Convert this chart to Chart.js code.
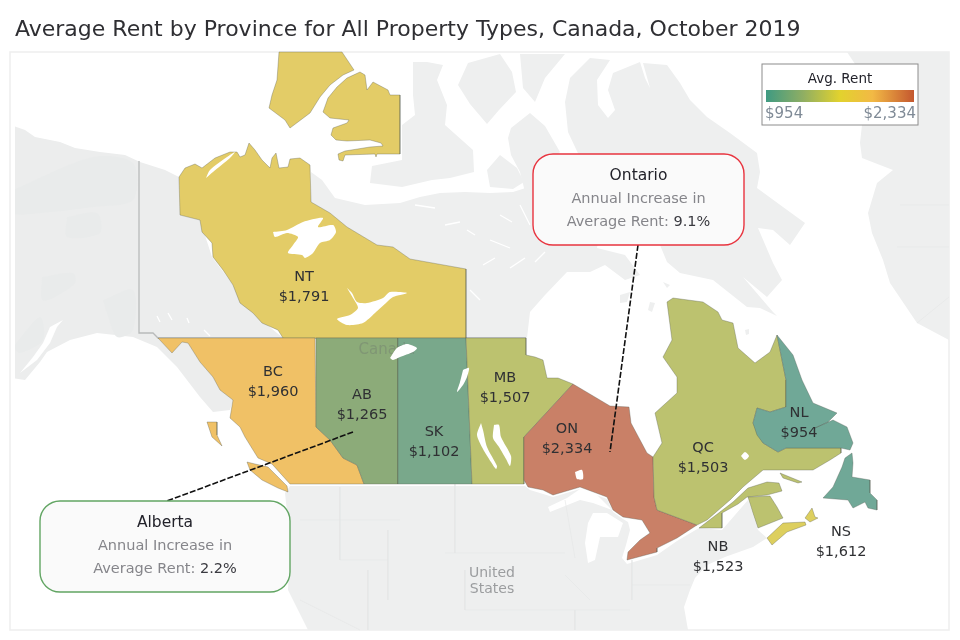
<!DOCTYPE html>
<html>
<head>
<meta charset="utf-8">
<title>Average Rent by Province</title>
<script src="https://cdn.jsdelivr.net/npm/chart.js@4"></script>
<style>
    html, body { margin: 0; padding: 0; background: #fff; }
    canvas { display: block; }
</style>
</head>
<body>
<canvas id="rentMap" width="960" height="640"></canvas>
<script>
const chartTitle = 'Average Rent by Province for All Property Types, Canada, October 2019';

// values
const provinces = ['NT', 'BC', 'AB', 'SK', 'MB', 'ON', 'QC', 'NL', 'NS', 'NB'];
const rents = [1791, 1960, 1265, 1102, 1507, 2334, 1503, 954, 1612, 1523];
const provinceFills = ['#e3cc67', '#f0c166', '#8cab79', '#79a88b', '#bcc26f', '#c98067', '#bcc26f', '#70a897', '#70a897', '#bcc26f'];
const labelX = [304, 273, 362, 434, 505, 567, 703, 799, 841, 718];
const labelY = [277, 372, 395, 432, 378, 429, 448, 413, 532, 547];

const calloutNames = ['Ontario', 'Alberta'];
const calloutIncreases = [9.1, 2.2];
const legendMin = 954;
const legendMax = 2334;

// map outlines, in map units
const ntBanks = [[279,52],[342,52],[354,70],[343,75],[330,85],[320,97],[310,113],[290,128],[285,120],[269,108],[272,95],[277,80]];
const ntVictoria = [[360,72],[365,75],[367,90],[373,82],[388,90],[390,95],[400,95],[400,154],[377,154],[376,157],[375,154],[345,155],[343,161],[339,160],[338,154],[345,151],[370,147],[383,146],[381,143],[370,140],[347,141],[336,140],[331,135],[333,128],[347,123],[349,120],[330,118],[323,112],[328,98],[337,87],[347,78]];
const ntMain = [[179,177],[185,168],[195,164],[202,168],[215,158],[230,152],[237,152],[240,157],[245,155],[249,143],[255,150],[262,160],[270,168],[272,158],[276,153],[279,168],[288,167],[290,159],[300,158],[310,165],[311,202],[330,213],[347,227],[377,245],[393,247],[410,259],[466,269],[466,338],[283,338],[278,330],[262,323],[253,313],[240,303],[233,285],[223,270],[213,257],[212,243],[202,232],[200,220],[180,215]];
const bcMain = [[158,338],[315,338],[316,427],[330,440],[343,458],[357,465],[364,484],[290,484],[281,474],[272,464],[258,458],[245,437],[240,427],[230,418],[233,400],[220,390],[213,377],[200,362],[188,343],[182,342],[172,353]];
const bcVancouver = [[247,462],[255,464],[268,467],[277,476],[287,486],[288,492],[278,488],[262,480],[250,470]];
const bcHaida = [[207,422],[217,422],[217,435],[222,446],[212,437]];
const abMain = [[316,338],[398,338],[398,484],[364,484],[357,465],[343,458],[330,440],[316,427]];
const skMain = [[398,338],[466,338],[472,484],[398,484]];
const mbMain = [[466,338],[526,338],[526,355],[535,357],[543,360],[547,378],[558,378],[573,384],[524,437],[524,484],[472,484]];
const onMain = [[573,384],[610,406],[629,407],[631,423],[647,453],[653,457],[654,497],[657,510],[697,525],[677,538],[657,548],[657,552],[627,560],[628,552],[640,540],[650,533],[642,520],[623,517],[613,510],[607,497],[580,487],[553,495],[543,490],[528,487],[524,480],[524,437]];
const qcMain = [[667,302],[673,298],[703,302],[718,312],[722,320],[733,323],[738,348],[755,363],[770,352],[777,335],[786,380],[786,407],[770,412],[757,408],[753,423],[763,443],[778,452],[786,448],[841,448],[841,453],[830,460],[813,470],[763,470],[743,487],[730,500],[707,520],[697,525],[657,510],[654,497],[653,457],[662,443],[655,413],[677,393],[677,377],[663,357],[672,340]];
const qcAnticosti = [[780,473],[802,482],[798,483],[783,478]];
const nlLabrador = [[777,335],[793,355],[802,380],[813,403],[837,413],[828,422],[815,428],[833,420],[847,427],[853,443],[850,450],[841,448],[786,448],[778,452],[763,443],[757,435],[753,423],[757,408],[770,412],[786,407],[786,380]];
const nsNewfoundland = [[852,453],[853,463],[852,477],[870,480],[870,493],[877,500],[877,510],[868,508],[865,502],[853,508],[848,500],[823,498],[833,487],[842,467],[845,458]];
const nbGaspe = [[699,528],[733,502],[748,488],[767,482],[779,483],[782,491],[767,495],[747,497],[738,504],[722,513],[722,528]];
const nbMain = [[748,497],[770,496],[777,507],[783,518],[758,528],[753,513]];
const novaScotia = [[767,538],[783,523],[805,522],[806,525],[787,532],[772,545]];
const capeBreton = [[812,508],[815,517],[818,518],[810,522],[805,518]];

// province index -> pieces
const provinceShapes = [
    [ntBanks, ntVictoria, ntMain], [bcMain, bcVancouver, bcHaida], [abMain], [skMain], [mbMain],
    [onMain], [qcMain, qcAnticosti], [nlLabrador], [nsNewfoundland], [nbGaspe, nbMain]
];
const novaScotiaFill = '#ddcf5e';

// white water on top of the provinces
const lakes = [
    [[273,232],[287,230],[303,222],[323,218],[318,227],[333,225],[336,232],[330,240],[320,243],[313,253],[305,258],[302,255],[288,253],[293,245],[298,237],[287,233],[275,237]],
    [[347,288],[352,293],[357,302],[367,303],[383,298],[390,292],[407,293],[393,297],[387,302],[375,313],[363,323],[347,325],[337,319],[350,315],[358,308],[353,298]],
    [[206,178],[210,170],[227,157],[235,152],[230,158],[213,172]],
    [[390,358],[397,348],[407,344],[417,348],[413,352],[400,357],[393,360]],
    [[463,370],[469,368],[467,377],[463,385],[457,392],[460,382]],
    [[494,425],[499,425],[501,437],[511,456],[510,466],[506,459],[499,447],[493,438]],
    [[481,423],[483,430],[487,447],[497,466],[496,469],[491,462],[483,449],[477,435]],
    [[575,472],[582,470],[583,479],[577,479]],
    [[741,456],[745,452],[749,456],[745,460]]
];

// grey land behind the provinces
const alaskaYukon = [[11,125],[25,130],[35,137],[60,142],[75,148],[100,152],[125,155],[140,162],[165,170],[179,177],[180,215],[200,220],[212,257],[233,285],[253,313],[283,338],[158,338],[172,353],[182,342],[188,343],[200,362],[213,377],[220,390],[233,400],[230,410],[213,412],[200,397],[177,367],[157,347],[133,337],[97,333],[70,340],[47,352],[40,362],[25,380],[11,378]];
const arcticMainland = [[311,172],[322,180],[335,198],[365,205],[400,203],[420,197],[440,193],[465,192],[490,193],[513,192],[535,185],[600,230],[597,248],[625,255],[640,275],[625,280],[605,265],[590,272],[567,272],[545,295],[530,312],[527,338],[466,338],[466,269],[410,259],[393,247],[377,245],[347,227],[330,213],[311,202]];
const arcticIslandA = [[413,62],[427,62],[443,65],[437,80],[447,105],[445,125],[473,150],[474,172],[450,178],[432,180],[402,187],[370,183],[372,166],[402,160],[402,125],[415,115],[413,95]];
const arcticIslandB = [[458,85],[468,63],[500,54],[512,72],[516,92],[499,110],[487,124],[470,104]];
const arcticIslandC = [[520,54],[565,54],[545,78],[535,102],[523,88]];
const arcticIslandD = [[511,128],[530,113],[545,126],[560,152],[552,160],[540,185],[525,192],[520,172],[511,155],[508,138]];
const arcticIslandE = [[487,170],[500,155],[517,168],[524,182],[513,189],[490,187]];
const baffin = [[565,102],[570,78],[590,58],[610,60],[597,80],[598,105],[608,118],[615,110],[608,90],[613,73],[640,62],[645,78],[650,88],[643,63],[667,65],[680,83],[690,100],[707,117],[730,133],[757,153],[760,172],[757,188],[783,207],[805,223],[790,245],[773,230],[758,228],[773,263],[782,280],[767,297],[743,277],[773,312],[777,316],[760,308],[747,307],[713,280],[680,273],[667,262],[660,245],[600,200],[568,132]];
const smallIslands = [
    [[620,295],[630,292],[627,302],[620,303]],
    [[650,302],[655,303],[652,312],[648,310]],
    [[663,282],[670,285],[667,288]],
    [[745,330],[749,329],[749,334],[746,335]]
];
const greenland = [[847,52],[949,52],[949,340],[917,323],[890,283],[883,260],[872,233],[868,213],[877,183],[893,170],[880,165],[862,158],[860,143],[862,125],[918,125],[918,64],[855,64]];
const usa = [[285,493],[290,486],[525,486],[530,490],[553,497],[580,489],[607,499],[613,512],[623,519],[628,522],[630,530],[626,545],[622,558],[627,564],[657,555],[677,541],[699,528],[722,530],[735,515],[748,500],[758,530],[767,538],[753,547],[725,557],[707,565],[695,578],[690,590],[684,607],[688,630],[308,630],[288,590],[290,540]];
const usaLakes = [
    [[548,507],[567,498],[580,489],[593,491],[612,510],[593,503],[580,500],[560,508],[550,512]],
    [[585,543],[588,523],[593,513],[607,513],[623,523],[618,537],[600,537],[595,560],[588,563]]
];
const alaskaPatches = [
    [[42,277],[73,273],[75,283],[53,298],[42,300]],
    [[67,217],[97,213],[100,233],[67,237]],
    [[13,190],[93,157],[133,163],[133,200],[93,207],[40,213],[13,213]],
    [[103,300],[133,290],[133,330],[117,337],[107,313]],
    [[13,347],[40,317],[43,340],[20,353]]
];
const cookInlet = [[63,320],[50,327],[43,343],[33,357],[20,373],[37,360],[50,343],[57,327]];

// thin lines on the base map
const stateLines = [
    [[340,487],[340,560]], [[300,520],[400,520]], [[340,560],[388,560]], [[388,530],[388,600]],
    [[445,553],[565,553]], [[455,483],[455,553]], [[565,500],[575,558]], [[565,575],[590,600]],
    [[368,570],[368,630]], [[465,570],[465,610]], [[465,610],[630,610]], [[575,610],[575,630]],
    [[632,560],[632,600]], [[632,585],[690,585]], [[300,600],[360,630]],
    [[900,205],[949,205]], [[897,247],[949,247]], [[917,323],[949,297]]
];
const arcticStreaks = [
    [[467,230],[475,235]], [[490,240],[510,248]], [[483,265],[495,258]], [[510,268],[525,258]],
    [[470,290],[480,300]], [[520,205],[530,225]], [[445,225],[460,222]], [[540,225],[552,232]],
    [[500,215],[512,222]], [[415,205],[435,208]], [[535,262],[545,252]],
    [[157,316],[160,322]], [[168,313],[172,320]], [[187,318],[189,323]], [[204,330],[210,336]]
];
const territoryLine = [[139,161],[139,333],[153,333],[158,338],[526,338]];
const ontarioLeader = [[638,245],[610,452]];
const albertaLeader = [[353,432],[167,501]];

function money(v) {
    return '$' + v.toLocaleString('en-US');
}

const datasets = [];
function addShape(points, fill, stroke, tension) {
    datasets.push({
        data: points.concat([points[0]]),
        showLine: true,
        fill: 'shape',
        backgroundColor: fill,
        borderColor: stroke || fill,
        borderWidth: stroke ? 0.8 : 0,
        pointRadius: 0,
        tension: tension || 0,
        clip: false
    });
}
function addLine(points, color, width, dash) {
    datasets.push({
        data: points,
        showLine: true,
        fill: false,
        borderColor: color,
        borderWidth: width,
        borderDash: dash || [],
        pointRadius: 0,
        tension: 0,
        clip: false
    });
}

const landGrey = '#eeefef';
addShape(alaskaYukon, '#eceded');
alaskaPatches.forEach(p => addShape(p, '#e9ebeb', null, 0.3));
addShape(cookInlet, '#ffffff');
[arcticMainland, arcticIslandA, arcticIslandB, arcticIslandC, arcticIslandD, arcticIslandE, baffin, greenland, usa].forEach(p => addShape(p, landGrey));
smallIslands.forEach(p => addShape(p, landGrey));
usaLakes.forEach(p => addShape(p, '#ffffff'));
stateLines.forEach(l => addLine(l, '#e4e6e6', 0.6));
arcticStreaks.forEach(l => addLine(l, '#ffffff', 1.3));
addLine(territoryLine, '#b8baba', 1.3);

const provinceBorder = 'rgba(85,90,80,0.42)';
provinceShapes.forEach((pieces, i) => {
    pieces.forEach(p => addShape(p, provinceFills[i], provinceBorder));
});
addShape(novaScotia, novaScotiaFill, provinceBorder);
addShape(capeBreton, novaScotiaFill, provinceBorder);
const canadaLayer = datasets.length - 1;
lakes.forEach(p => addShape(p, '#ffffff', null, 0.25));
addLine(ontarioLeader, '#111111', 1.6, [6, 2]);
addLine(albertaLeader, '#111111', 1.6, [6, 2]);

// later datasets go on top
datasets.forEach((d, i) => { d.order = datasets.length - i; });

const labelFont = '"DejaVu Sans", sans-serif';

const mapFrame = {
    id: 'mapFrame',
    beforeDatasetsDraw(chart) {
        const { ctx, scales: { x, y } } = chart;
        ctx.save();
        ctx.strokeStyle = '#eeeeee';
        ctx.lineWidth = 1.5;
        ctx.strokeRect(x.getPixelForValue(10), y.getPixelForValue(52), x.getPixelForValue(949) - x.getPixelForValue(10), y.getPixelForValue(630) - y.getPixelForValue(52));
        ctx.restore();
    },
    // the country name sits under the lakes
    afterDatasetDraw(chart, args) {
        if (args.index !== canadaLayer) return;
        const { ctx, scales: { x, y } } = chart;
        ctx.save();
        ctx.textAlign = 'center';
        ctx.textBaseline = 'middle';
        ctx.font = '15px ' + labelFont;
        ctx.fillStyle = 'rgba(110,120,110,0.4)';
        ctx.fillText('Canada', x.getPixelForValue(387), y.getPixelForValue(350));
        ctx.restore();
    }
};

function drawCallout(chart, index, left, top, right, bottom, stroke) {
    const { ctx, scales: { x, y } } = chart;
    const l = x.getPixelForValue(left), r = x.getPixelForValue(right);
    const t = y.getPixelForValue(top), b = y.getPixelForValue(bottom);
    const cx = (l + r) / 2;
    ctx.beginPath();
    ctx.roundRect(l, t, r - l, b - t, 20);
    ctx.fillStyle = '#fafafa';
    ctx.fill();
    ctx.lineWidth = 1.4;
    ctx.strokeStyle = stroke;
    ctx.stroke();

    ctx.textAlign = 'center';
    ctx.textBaseline = 'middle';
    ctx.font = '15.5px ' + labelFont;
    ctx.fillStyle = '#22222a';
    ctx.fillText(calloutNames[index], cx, t + 22);
    ctx.font = '14.5px ' + labelFont;
    ctx.fillStyle = '#85858a';
    ctx.fillText('Annual Increase in', cx, t + 45);

    const lead = 'Average Rent: ';
    const pct = calloutIncreases[index] + '%';
    const w1 = ctx.measureText(lead).width;
    const w2 = ctx.measureText(pct).width;
    ctx.textAlign = 'left';
    ctx.fillText(lead, cx - (w1 + w2) / 2, t + 68);
    ctx.fillStyle = '#3a3a40';
    ctx.fillText(pct, cx - (w1 + w2) / 2 + w1, t + 68);
}

const mapText = {
    id: 'mapText',
    afterDatasetsDraw(chart) {
        const { ctx, scales: { x, y } } = chart;
        ctx.save();
        ctx.textAlign = 'center';
        ctx.textBaseline = 'middle';

        ctx.font = '14px ' + labelFont;
        ctx.fillStyle = '#9b9d9f';
        ctx.fillText('United', x.getPixelForValue(492), y.getPixelForValue(573));
        ctx.fillText('States', x.getPixelForValue(492), y.getPixelForValue(589));

        // province labels
        provinces.forEach((name, i) => {
            const px = x.getPixelForValue(labelX[i]);
            const py = y.getPixelForValue(labelY[i]);
            ctx.font = '14.5px ' + labelFont;
            ctx.fillStyle = '#2f3033';
            ctx.fillText(name, px, py);
            ctx.fillText(money(rents[i]), px, py + 20.5);
        });

        drawCallout(chart, 0, 533, 154, 744, 245, '#e8343f');
        drawCallout(chart, 1, 40, 501, 290, 592, '#62a563');

        // colour legend
        const bl = x.getPixelForValue(762), bt = y.getPixelForValue(64);
        const br = x.getPixelForValue(918), bb = y.getPixelForValue(125);
        ctx.fillStyle = '#ffffff';
        ctx.fillRect(bl, bt, br - bl, bb - bt);
        ctx.strokeStyle = '#8c8c8c';
        ctx.lineWidth = 1;
        ctx.strokeRect(bl, bt, br - bl, bb - bt);

        const gl = x.getPixelForValue(766), gr = x.getPixelForValue(914);
        const gt = y.getPixelForValue(90), gb = y.getPixelForValue(102);
        const grad = ctx.createLinearGradient(gl, 0, gr, 0);
        grad.addColorStop(0, '#3f9a82');
        grad.addColorStop(0.25, '#8fae63');
        grad.addColorStop(0.5, '#e2d22e');
        grad.addColorStop(0.72, '#f2b945');
        grad.addColorStop(1, '#c4572f');
        ctx.fillStyle = grad;
        ctx.fillRect(gl, gt, gr - gl, gb - gt);

        ctx.font = '13.5px ' + labelFont;
        ctx.fillStyle = '#22222a';
        ctx.textAlign = 'center';
        ctx.fillText('Avg. Rent', x.getPixelForValue(840), y.getPixelForValue(79));
        ctx.font = '15px ' + labelFont;
        ctx.fillStyle = '#7f8a96';
        ctx.textAlign = 'left';
        ctx.fillText(money(legendMin), gl - 1, y.getPixelForValue(114));
        ctx.textAlign = 'right';
        ctx.fillText(money(legendMax), gr + 2, y.getPixelForValue(114));
        ctx.restore();
    }
};

new Chart(document.getElementById('rentMap').getContext('2d'), {
    type: 'scatter',
    data: { datasets: datasets },
    plugins: [mapFrame, mapText],
    options: {
        responsive: false,
        animation: false,
        events: [],
        layout: { padding: { left: 15, right: 0, top: 0, bottom: 0 } },
        plugins: {
            legend: { display: false },
            tooltip: { enabled: false },
            title: {
                display: true,
                text: chartTitle,
                align: 'start',
                color: '#2f2f33',
                font: { family: '"DejaVu Sans", sans-serif', size: 22, weight: 'normal', lineHeight: 1.2 },
                padding: { top: 17, bottom: 8.6 }
            }
        },
        scales: {
            x: { type: 'linear', display: false, min: 15, max: 960 },
            y: { type: 'linear', display: false, min: 52, max: 640, reverse: true }
        }
    }
});
</script>
</body>
</html>
